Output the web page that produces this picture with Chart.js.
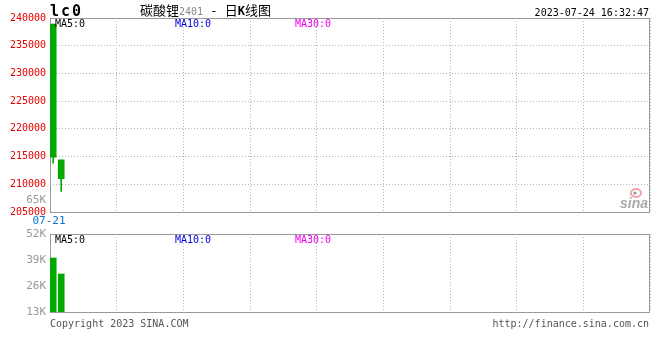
<!DOCTYPE html>
<html>
<head>
<meta charset="utf-8">
<script src="https://cdn.jsdelivr.net/npm/chart.js@4.4.0/dist/chart.umd.min.js"></script>
<style>
  html, body { margin: 0; padding: 0; background: #fff; }
  #wrap { position: relative; width: 660px; height: 360px; }
  #wrap canvas { position: absolute; left: 0; top: 0; }
</style>
</head>
<body>
<div id="wrap">
  <canvas id="kChart" width="660" height="360"></canvas>
  <canvas id="volChart" width="660" height="360"></canvas>
</div>
<script>
// data
const dates = ['07-21', '07-24'];
const opens = [238900, 214400];
const closes = [214900, 211000];
const highs = [238900, 214400];
const lows = [213800, 208700];
const volumes = [40000, 32000];
const priceMin = 205000;
const priceMax = 240000;
const priceStep = 5000;
const volTickValues = [13000, 26000, 39000, 52000];
const volTickLabels = ['13K', '26K', '39K', '52K'];
const volGridValues = [13000, 22750, 32500, 42250, 52000];
const maLabels = ['MA5:0', 'MA10:0', 'MA30:0'];

const MONO = "'DejaVu Sans Mono', monospace";
const GREEN = '#00a800';
const GRID = '#b4b4b4';
const FRAME = '#999999';
const SLOTS = 75;

// x axis: one slot per trading day, 9 dotted divisions across the panel
const xAxis = () => ({
    type: 'linear',
    offset: false,
    min: -0.4,
    max: SLOTS - 0.4,
    afterBuildTicks: (scale) => {
        const step = (scale.max - scale.min) / 9;
        scale.ticks = Array.from({ length: 10 }, (_, i) => ({ value: scale.min + i * step }));
    },
    afterFit: (scale) => { scale.height = 0; },
    ticks: { display: false },
    grid: { color: GRID, drawTicks: false, offset: false },
    border: { display: false, dash: [1, 2] }
});

const drawFrame = (chart) => {
    const { ctx, chartArea: a } = chart;
    ctx.save();
    ctx.setLineDash([]);
    ctx.strokeStyle = FRAME;
    ctx.lineWidth = 1;
    ctx.strokeRect(Math.round(a.left) + 0.5, Math.round(a.top) + 0.5,
        Math.round(a.right - a.left) - 1, Math.round(a.bottom - a.top));
    ctx.restore();
};

const drawMaLabels = (ctx, y) => {
    const colors = ['#000000', '#0000dd', '#ee00ee'];
    const xs = [55, 175, 295];
    ctx.font = '10px ' + MONO;
    ctx.textAlign = 'left';
    ctx.textBaseline = 'alphabetic';
    maLabels.forEach((t, i) => {
        ctx.fillStyle = colors[i];
        ctx.fillText(t, xs[i], y);
    });
};

const kDecor = {
    id: 'kDecor',
    beforeDatasetsDraw: (chart) => drawFrame(chart),
    afterDraw: (chart) => {
        const ctx = chart.ctx;
        ctx.save();

        // symbol code
        ctx.fillStyle = '#000';
        ctx.font = 'bold 15px ' + MONO;
        ctx.letterSpacing = '2px';
        ctx.fillText('lc0', 50, 16);
        ctx.letterSpacing = '0px';

        // title
        let x = 140;
        const parts = [
            ['碳酸锂', "13px 'Noto Sans CJK SC'", '#000'],
            ['2401', '10px ' + MONO, '#888'],
            [' - ', '12px ' + MONO, '#000'],
            ['日', "13px 'Noto Sans CJK SC'", '#000'],
            ['K', 'bold 12px ' + MONO, '#000'],
            ['线图', "13px 'Noto Sans CJK SC'", '#000']
        ];
        parts.forEach(([t, f, c]) => {
            ctx.font = f;
            ctx.fillStyle = c;
            ctx.fillText(t, x, 15);
            x += ctx.measureText(t).width;
        });

        // timestamp
        ctx.font = '10px ' + MONO;
        ctx.fillStyle = '#000';
        ctx.textAlign = 'right';
        ctx.fillText('2023-07-24 16:32:47', 649, 16);

        drawMaLabels(ctx, 27);

        // stray volume label and first date
        ctx.font = '11px ' + MONO;
        ctx.textAlign = 'right';
        ctx.textBaseline = 'middle';
        ctx.fillStyle = '#999';
        ctx.fillText('65K', 46, 200);
        ctx.textAlign = 'center';
        ctx.fillStyle = '#0a74d0';
        ctx.fillText(dates[0], 49, 221);

        // sina watermark
        ctx.strokeStyle = '#f5a0a8';
        ctx.lineWidth = 2;
        ctx.beginPath();
        ctx.ellipse(636, 193, 5, 4, 0, 0, Math.PI * 2);
        ctx.stroke();
        ctx.fillStyle = '#999';
        ctx.beginPath();
        ctx.arc(635, 193, 1.6, 0, Math.PI * 2);
        ctx.fill();
        ctx.font = 'italic bold 14px Arial, sans-serif';
        ctx.fillStyle = '#aaa';
        ctx.textAlign = 'left';
        ctx.textBaseline = 'alphabetic';
        ctx.fillText('sina', 620, 208);

        ctx.restore();
    }
};

const volDecor = {
    id: 'volDecor',
    beforeDatasetsDraw: (chart) => drawFrame(chart),
    afterDraw: (chart) => {
        const ctx = chart.ctx;
        ctx.save();
        drawMaLabels(ctx, 243);
        ctx.font = '10px ' + MONO;
        ctx.fillStyle = '#555';
        ctx.textAlign = 'left';
        ctx.fillText('Copyright 2023 SINA.COM', 50, 327);
        ctx.textAlign = 'right';
        ctx.fillText('http://finance.sina.com.cn', 649, 327);
        ctx.restore();
    }
};

new Chart(document.getElementById('kChart'), {
    type: 'bar',
    data: {
        datasets: [{
            label: 'body',
            data: dates.map((d, i) => ({ x: i, y: [opens[i], closes[i]] })),
            backgroundColor: GREEN,
            barThickness: 6,
            grouped: false
        }, {
            label: 'wick',
            data: dates.map((d, i) => ({ x: i, y: [lows[i], highs[i]] })),
            backgroundColor: GREEN,
            barThickness: 1,
            grouped: false
        }]
    },
    options: {
        responsive: false,
        animation: false,
        layout: { padding: { top: 18, right: 10, bottom: 148, left: 0 } },
        plugins: { legend: { display: false }, tooltip: { enabled: false } },
        scales: {
            x: xAxis(),
            y: {
                min: priceMin,
                max: priceMax,
                afterFit: (scale) => { scale.width = 50; },
                ticks: {
                    stepSize: priceStep,
                    color: '#e60000',
                    font: { family: MONO, size: 10 },
                    padding: 4,
                    callback: (v) => String(v)
                },
                grid: { color: GRID, drawTicks: false },
                border: { display: false, dash: [1, 2] }
            }
        }
    },
    plugins: [kDecor]
});

new Chart(document.getElementById('volChart'), {
    type: 'bar',
    data: {
        datasets: [{
            label: 'volume',
            data: dates.map((d, i) => ({ x: i, y: volumes[i] })),
            backgroundColor: GREEN,
            barThickness: 6
        }]
    },
    options: {
        responsive: false,
        animation: false,
        layout: { padding: { top: 234, right: 10, bottom: 48, left: 0 } },
        plugins: { legend: { display: false }, tooltip: { enabled: false } },
        scales: {
            x: xAxis(),
            y: {
                min: volTickValues[0],
                max: volTickValues[volTickValues.length - 1],
                afterFit: (scale) => { scale.width = 50; },
                afterBuildTicks: (scale) => {
                    const vals = [...new Set([...volTickValues, ...volGridValues])].sort((a, b) => a - b);
                    scale.ticks = vals.map(v => ({ value: v }));
                },
                ticks: {
                    color: '#999',
                    font: { family: MONO, size: 11 },
                    padding: 4,
                    callback: (v) => {
                        const i = volTickValues.indexOf(v);
                        return i >= 0 ? volTickLabels[i] : '';
                    }
                },
                grid: {
                    color: (c) => volGridValues.includes(c.tick && c.tick.value) ? GRID : 'rgba(0,0,0,0)',
                    drawTicks: false
                },
                border: { display: false, dash: [1, 2] }
            }
        }
    },
    plugins: [volDecor]
});
</script>
</body>
</html>
